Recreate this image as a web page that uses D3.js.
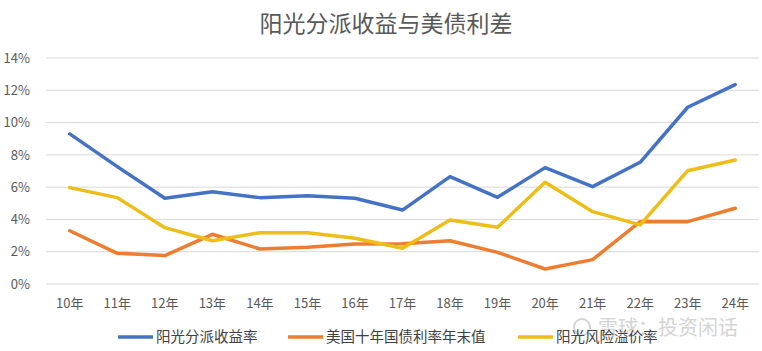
<!DOCTYPE html>
<html>
<head>
<meta charset="utf-8">
<script src="https://cdn.jsdelivr.net/npm/d3@7"></script>
<style>
  body { margin: 0; background: #fff; }
  text { font-family: "Noto Sans CJK SC", "Noto Sans", sans-serif; }
</style>
</head>
<body>
<div id="chart"></div>
<script>
// Data (percent)
const years = ["10年", "11年", "12年", "13年", "14年", "15年", "16年", "17年", "18年", "19年", "20年", "21年", "22年", "23年", "24年"];
const yieldRate = [9.3, 7.27, 5.31, 5.72, 5.35, 5.47, 5.31, 4.58, 6.65, 5.37, 7.21, 6.03, 7.54, 10.95, 12.35];
const usTreasury = [3.30, 1.90, 1.76, 3.08, 2.17, 2.27, 2.48, 2.50, 2.68, 1.96, 0.93, 1.51, 3.86, 3.86, 4.69];
const riskPremium = [5.97, 5.35, 3.49, 2.68, 3.18, 3.18, 2.83, 2.21, 3.97, 3.51, 6.30, 4.48, 3.66, 7.02, 7.68];
const yTicks = [0, 2, 4, 6, 8, 10, 12, 14];

const series = [
  { name: "阳光分派收益率", values: yieldRate, color: "#4472C4" },
  { name: "美国十年国债利率年末值", values: usTreasury, color: "#ED7D31" },
  { name: "阳光风险溢价率", values: riskPremium, color: "#EDBD18" }
];

const W = 762, H = 351;
const margin = { top: 58, right: 3, bottom: 67, left: 46 };
const width = W - margin.left - margin.right,
      height = H - margin.top - margin.bottom;

const root = d3.select("#chart").append("svg")
    .attr("width", W)
    .attr("height", H);

// Title
root.append("text")
    .attr("x", 386)
    .attr("y", 32)
    .attr("text-anchor", "middle")
    .attr("fill", "#595959")
    .style("font-size", "23px")
    .text("阳光分派收益与美债利差");

const svg = root.append("g")
    .attr("transform", `translate(${margin.left},${margin.top})`);

const x = d3.scaleBand()
    .domain(years)
    .range([0, width]);

const y = d3.scaleLinear()
    .domain([0, 14])
    .range([height, 0]);

// Gridlines
svg.append("g")
    .selectAll("line")
    .data(yTicks)
    .enter()
    .append("line")
    .attr("x1", 0)
    .attr("x2", width)
    .attr("y1", d => y(d))
    .attr("y2", d => y(d))
    .attr("stroke", "#d9d9d9")
    .attr("stroke-width", 1);

// Y axis
const yAxis = svg.append("g")
    .attr("transform", "translate(-13,0)")
    .call(d3.axisLeft(y).tickValues(yTicks).tickFormat(d => d + "%").tickSize(0));
yAxis.select(".domain").remove();
yAxis.selectAll("text")
    .attr("fill", "#595959")
    .style("font-size", "13px");

// X axis
const xAxis = svg.append("g")
    .attr("transform", `translate(0,${height + 12})`)
    .call(d3.axisBottom(x).tickSize(0));
xAxis.select(".domain").remove();
xAxis.selectAll("text")
    .attr("fill", "#595959")
    .style("font-size", "13px");

// Lines
const line = d3.line()
    .x((d, i) => x(years[i]) + x.bandwidth() / 2)
    .y(d => y(d));

series.forEach(s => {
    svg.append("path")
        .datum(s.values)
        .attr("fill", "none")
        .attr("stroke", s.color)
        .attr("stroke-width", 3.5)
        .attr("stroke-linejoin", "round")
        .attr("stroke-linecap", "round")
        .attr("d", line);
});

// Watermark (sits behind the legend, as in the source image)
const wm = root.append("g");
wm.append("circle")
    .attr("cx", 582).attr("cy", 327).attr("r", 8)
    .attr("fill", "none").attr("stroke", "#d4d4d4").attr("stroke-width", 2);
wm.append("text")
    .attr("x", 598)
    .attr("y", 335)
    .attr("fill", "#d4d4d4")
    .style("font-size", "20px")
    .text("雪球：投资闲话");

// Legend
const legendX = [118, 288, 518];
const legend = root.append("g")
    .selectAll("g")
    .data(series)
    .enter()
    .append("g")
    .attr("transform", (d, i) => `translate(${legendX[i]},337)`);

legend.append("line")
    .attr("x1", 0).attr("x2", 35)
    .attr("stroke", d => d.color)
    .attr("stroke-width", 3.5);

legend.append("text")
    .attr("x", 38)
    .attr("y", 5)
    .attr("fill", "#404040")
    .style("font-size", "14.5px")
    .text(d => d.name);
</script>
</body>
</html>
